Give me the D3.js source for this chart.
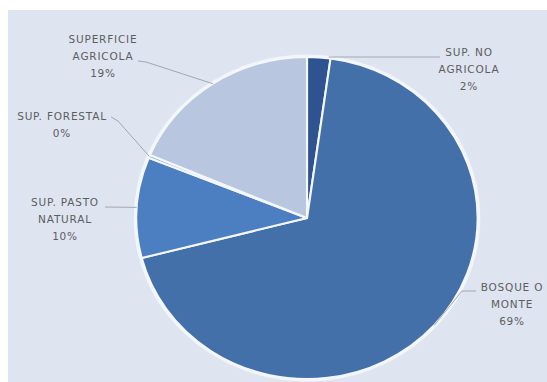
<!DOCTYPE html>
<html>
<head>
<meta charset="utf-8">
<script src="https://cdn.jsdelivr.net/npm/d3@7"></script>
<style>
  body { margin: 0; background: #fff; }
  svg { display: block; }
  .lbl { font-family: "DejaVu Sans", sans-serif; font-size: 10.5px; letter-spacing: 0.8px; fill: #5d5d5d; }
</style>
</head>
<body>
<svg width="547" height="382"></svg>
<script>
// data, clockwise from 12 o'clock
var categories = ["SUP. NO AGRICOLA", "BOSQUE O MONTE", "SUP. PASTO NATURAL", "SUP. FORESTAL", "SUPERFICIE AGRICOLA"];
var labelLines = [["SUP. NO", "AGRICOLA"], ["BOSQUE O", "MONTE"], ["SUP. PASTO", "NATURAL"], ["SUP. FORESTAL"], ["SUPERFICIE", "AGRICOLA"]];
var values = [2.2, 68.8, 10.1, 0.3, 18.6];
var colors = ["#2f5290", "#4370a9", "#4b7fc2", "#7f9fd2", "#b8c6df"];

// label anchor (text centre x, first line y) and leader elbow
var labelPos = [
  {x: 469, y: 52, ex: 440, ey: 57},
  {x: 512, y: 287, ex: 468, ey: 291},
  {x: 65, y: 202, ex: 105, ey: 207},
  {x: 62, y: 116, ex: 113, ey: 117},
  {x: 103, y: 39, ex: 138, ey: 61}
];

var svg = d3.select("svg");
var cx = 307, cy = 218, r = 161, sx = 1.06;

// panel background
svg.append("rect")
  .attr("x", 8).attr("y", 10)
  .attr("width", 547 - 8).attr("height", 382 - 10)
  .attr("fill", "#dee5f1");

var pie = d3.pie().sort(null).startAngle(0).endAngle(2 * Math.PI)(values);
var arc = d3.arc().innerRadius(0).outerRadius(r);

var total = d3.sum(values);

var g = svg.append("g")
  .attr("transform", "translate(" + cx + "," + cy + ") scale(" + sx + ",1)");

// faint halo round the pie
g.append("circle")
  .attr("r", r + 1.5)
  .attr("fill", "none")
  .attr("stroke", "#f2f5fa")
  .attr("stroke-width", 2);

g.selectAll("path.slice")
  .data(pie)
  .enter().append("path")
  .attr("class", "slice")
  .attr("d", arc)
  .attr("fill", function(d, i) { return colors[i]; })
  .attr("stroke", "#f4f7fc")
  .attr("stroke-width", 2)
  .attr("stroke-linejoin", "round");

// point on pie edge for leader line
function edge(a) {
  return [cx + Math.sin(a) * r * sx, cy - Math.cos(a) * r];
}

// leader anchor angle on the pie
var leadAngle = pie.map(function(d, i) {
  if (i == 0) return d.endAngle - 0.01;
  return (d.startAngle + d.endAngle) / 2;
});

var lg = svg.append("g");
pie.forEach(function(d, i) {
  var p = edge(leadAngle[i]);
  var lp = labelPos[i];
  var pts = [[p[0], p[1]], [lp.ex, lp.ey]];
  if (i == 0) pts = [[p[0], cy - r], [lp.ex, lp.ey]];
  if (i == 1) pts = [[p[0], p[1]], [lp.ex - 6, lp.ey], [lp.ex + 8, lp.ey]];
  if (i == 3) pts = [[p[0], p[1]], [lp.ex + 5, lp.ey + 4], [lp.ex - 2, lp.ey]];
  if (i == 4) pts = [[p[0], p[1]], [lp.ex + 8, lp.ey + 1], [lp.ex, lp.ey]];
  lg.append("path")
    .attr("d", d3.line()(pts))
    .attr("fill", "none")
    .attr("stroke", "#a3a8b2")
    .attr("stroke-width", 1);
});

// labels
pie.forEach(function(d, i) {
  var lp = labelPos[i];
  var lines = labelLines[i].concat([Math.round(values[i] / total * 100) + "%"]);
  var t = svg.append("text")
    .attr("class", "lbl")
    .attr("text-anchor", "middle")
    .attr("x", lp.x)
    .attr("y", lp.y);
  lines.forEach(function(s, j) {
    t.append("tspan")
      .attr("x", lp.x)
      .attr("dy", j == 0 ? "0.35em" : 17)
      .text(s);
  });
});
</script>
</body>
</html>
